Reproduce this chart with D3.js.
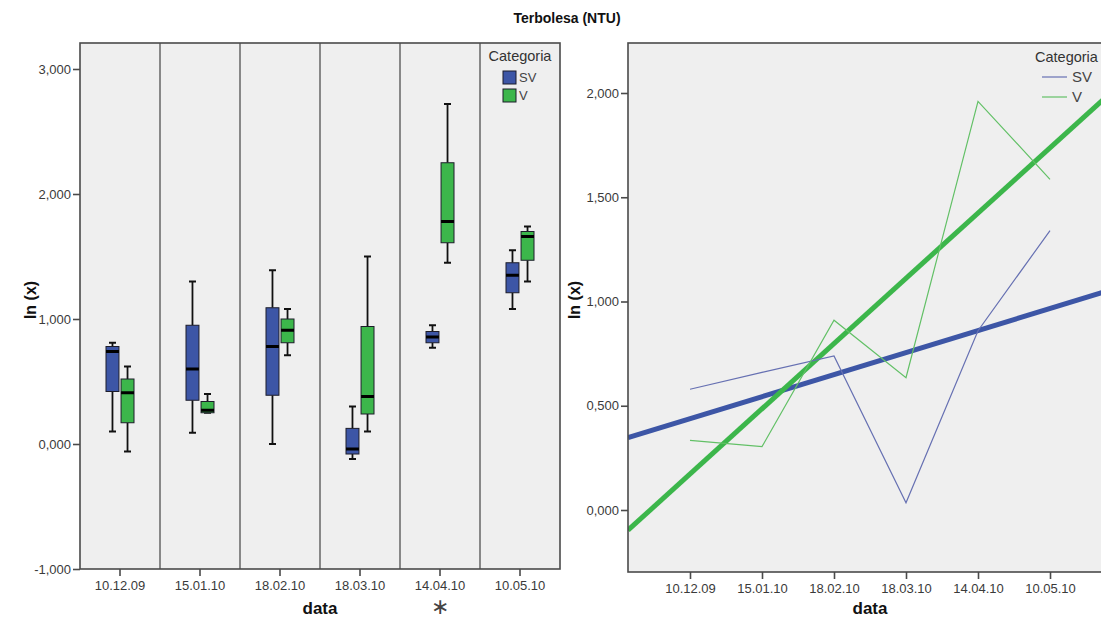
<!DOCTYPE html>
<html><head><meta charset="utf-8">
<script src="https://cdn.jsdelivr.net/npm/d3@7"></script>
<style>
body{margin:0;background:#fff}
svg{display:block}
text{font-family:Arial,"Liberation Sans",sans-serif}
</style>
</head><body>
<svg id="c" width="1101" height="620"></svg>
<script>
// ---------- data ----------
const dates = ["10.12.09","15.01.10","18.02.10","18.03.10","14.04.10","10.05.10"];
const categories = ["SV","V"];
// box plots: [min, q1, median, q3, max]
const svBoxes = [
  [0.10, 0.42, 0.74, 0.78, 0.81],
  [0.09, 0.35, 0.60, 0.95, 1.30],
  [0.00, 0.39, 0.78, 1.09, 1.39],
  [-0.12, -0.08, -0.04, 0.125, 0.30],
  [0.77, 0.81, 0.856, 0.90, 0.95],
  [1.08, 1.21, 1.35, 1.45, 1.55]
];
const vBoxes = [
  [-0.06, 0.17, 0.41, 0.52, 0.62],
  [0.25, 0.25, 0.27, 0.34, 0.40],
  [0.71, 0.81, 0.91, 1.00, 1.08],
  [0.10, 0.24, 0.38, 0.94, 1.50],
  [1.45, 1.61, 1.78, 2.25, 2.72],
  [1.30, 1.47, 1.66, 1.70, 1.74]
];
// line chart (means per date)
const svMeans = [0.579, 0.66, 0.739, 0.035, 0.86, 1.34];
const vMeans  = [0.334, 0.304, 0.91, 0.635, 1.96, 1.586];
const leftTicks = [-1, 0, 1, 2, 3];
const rightTicks = [0, 0.5, 1, 1.5, 2];
const outlierDate = "14.04.10";

// ---------- styles ----------
const colSV = "#3d56a6", colV = "#3cb64b";
const thinSV = "#6670b2", thinV = "#62c066";
const bg = "#efefef", frameCol = "#4a4a4a";
const fmt = v => v.toFixed(3).replace(".", ",");

const svg = d3.select("#c");

// ================= LEFT: boxplots =================
const L = {x0: 80, x1: 560, y0: 43, y1: 569};
const xL = d3.scaleBand().domain(dates).range([L.x0, L.x1]);
const yL = d3.scaleLinear().domain([-1, 3.208]).range([L.y1, L.y0]);
const gL = svg.append("g");
gL.append("rect").attr("x", L.x0).attr("y", L.y0).attr("width", L.x1-L.x0).attr("height", L.y1-L.y0)
  .attr("fill", bg);
// dividers
gL.selectAll("line.div").data(dates.slice(1)).join("line")
  .attr("x1", d => xL(d)).attr("x2", d => xL(d)).attr("y1", L.y0).attr("y2", L.y1)
  .attr("stroke", "#6e6e6e").attr("stroke-width", 1.6);

const catOff = d3.scaleBand().domain(categories).range([-14, 14]).paddingInner(0.14);
const boxW = catOff.bandwidth();
function drawBoxes(boxes, cat, color){
  const g = gL.append("g");
  boxes.forEach((b, i) => {
    const cx = xL(dates[i]) + xL.bandwidth()/2 + catOff(cat) + boxW/2;
    const gg = g.append("g");
    gg.append("line").attr("x1", cx).attr("x2", cx).attr("y1", yL(b[4])).attr("y2", yL(b[3]))
      .attr("stroke","#111").attr("stroke-width",1.8);
    gg.append("line").attr("x1", cx).attr("x2", cx).attr("y1", yL(b[1])).attr("y2", yL(b[0]))
      .attr("stroke","#111").attr("stroke-width",1.8);
    [b[0], b[4]].forEach(v => gg.append("line").attr("x1", cx-3.5).attr("x2", cx+3.5)
      .attr("y1", yL(v)).attr("y2", yL(v)).attr("stroke","#111").attr("stroke-width",2));
    gg.append("rect").attr("x", cx-boxW/2).attr("y", yL(b[3])).attr("width", boxW)
      .attr("height", Math.max(1, yL(b[1]) - yL(b[3])))
      .attr("fill", color).attr("stroke","#1d1d2a").attr("stroke-width",1);
    gg.append("line").attr("x1", cx-boxW/2).attr("x2", cx+boxW/2).attr("y1", yL(b[2])).attr("y2", yL(b[2]))
      .attr("stroke","#000").attr("stroke-width",3);
  });
}
drawBoxes(svBoxes, "SV", colSV);
drawBoxes(vBoxes, "V", colV);

gL.append("rect").attr("x", L.x0).attr("y", L.y0).attr("width", L.x1-L.x0).attr("height", L.y1-L.y0)
  .attr("fill","none").attr("stroke", frameCol).attr("stroke-width",1.6);

const axL = gL.append("g").attr("transform",`translate(${L.x0},0)`)
  .call(d3.axisLeft(yL).tickValues(leftTicks).tickFormat(fmt).tickSize(7).tickPadding(2));
const axLB = gL.append("g").attr("transform",`translate(0,${L.y1})`)
  .call(d3.axisBottom(xL).tickSize(7).tickPadding(5));
[axL, axLB].forEach(a => {
  a.select(".domain").remove();
  a.selectAll(".tick line").attr("stroke", frameCol).attr("stroke-width",1.6);
  a.selectAll(".tick text").attr("font-size",13).attr("fill","#3a3a3a")
    .attr("font-family","Arial, 'Liberation Sans', sans-serif");
});
gL.append("text").attr("transform","translate(36,300) rotate(-90)").attr("text-anchor","middle")
  .attr("font-size",16).attr("font-weight","bold").attr("fill","#111").text("ln (x)");
gL.append("text").attr("x", 320).attr("y", 614).attr("text-anchor","middle")
  .attr("font-size",17).attr("font-weight","bold").attr("fill","#111").text("data");
gL.append("text").attr("x", xL(outlierDate)+xL.bandwidth()/2).attr("y", 614).attr("text-anchor","middle")
  .attr("font-size",22).attr("font-family","'DejaVu Sans', sans-serif").attr("fill","#444").text("\u2217");

const lg = gL.append("g");
lg.append("text").attr("x", 520).attr("y", 61).attr("text-anchor","middle")
  .attr("font-size",14.5).attr("fill","#333").text("Categoria");
categories.forEach((c, i) => {
  lg.append("rect").attr("x", 503).attr("y", 71 + i*18).attr("width",13).attr("height",13)
    .attr("fill", i ? colV : colSV).attr("stroke","#1d1d2a").attr("stroke-width",1);
  lg.append("text").attr("x", 519).attr("y", 82 + i*18).attr("font-size",13).attr("fill","#444").text(c);
});

// ================= RIGHT: lines + fit =================
const R = {x0: 628, x1: 1112, y0: 43, y1: 572};
const idx = dates.map((d, i) => i + 1);
const xR = d3.scaleLinear().domain([0.139, 6.861]).range([R.x0, R.x1]);
const yR = d3.scaleLinear().domain([(510-572)/208.5, (510-43)/208.5]).range([R.y1, R.y0]);
const gR = svg.append("g");
gR.append("defs").append("clipPath").attr("id","clipR").append("rect")
  .attr("x", R.x0).attr("y", R.y0).attr("width", R.x1-R.x0).attr("height", R.y1-R.y0);
gR.append("rect").attr("x", R.x0).attr("y", R.y0).attr("width", R.x1-R.x0).attr("height", R.y1-R.y0)
  .attr("fill", bg);
const plot = gR.append("g").attr("clip-path","url(#clipR)");

function fit(ys){
  const mx = d3.mean(idx), my = d3.mean(ys);
  const sxy = d3.sum(idx, (x, i) => (x-mx)*(ys[i]-my));
  const sxx = d3.sum(idx, x => (x-mx)*(x-mx));
  const b = sxy/sxx; return {a: my - b*mx, b};
}
const line = d3.line().x((d, i) => xR(idx[i])).y(d => yR(d));
const fits = [[svMeans, colSV], [vMeans, colV]].map(([ys, c]) => {
  const f = fit(ys); const dom = xR.domain();
  return {pts: dom.map(x => [x, f.a + f.b*x]), c};
});
fits.forEach(f => plot.append("path")
  .attr("d", d3.line().x(p => xR(p[0])).y(p => yR(p[1]))(f.pts))
  .attr("fill","none").attr("stroke", f.c).attr("stroke-width",5));
plot.append("path").attr("d", line(svMeans)).attr("fill","none").attr("stroke", thinSV).attr("stroke-width",1.2);
plot.append("path").attr("d", line(vMeans)).attr("fill","none").attr("stroke", thinV).attr("stroke-width",1.2);

gR.append("rect").attr("x", R.x0).attr("y", R.y0).attr("width", R.x1-R.x0).attr("height", R.y1-R.y0)
  .attr("fill","none").attr("stroke", frameCol).attr("stroke-width",1.6);
const axR = gR.append("g").attr("transform",`translate(${R.x0},0)`)
  .call(d3.axisLeft(yR).tickValues(rightTicks).tickFormat(fmt).tickSize(7).tickPadding(2));
const axRB = gR.append("g").attr("transform",`translate(0,${R.y1})`)
  .call(d3.axisBottom(xR).tickValues(idx).tickFormat((d) => dates[d-1]).tickSize(7).tickPadding(5));
[axR, axRB].forEach(a => {
  a.select(".domain").remove();
  a.selectAll(".tick line").attr("stroke", frameCol).attr("stroke-width",1.6);
  a.selectAll(".tick text").attr("font-size",13).attr("fill","#3a3a3a")
    .attr("font-family","Arial, 'Liberation Sans', sans-serif");
});
gR.append("text").attr("transform","translate(580,300) rotate(-90)").attr("text-anchor","middle")
  .attr("font-size",16).attr("font-weight","bold").attr("fill","#111").text("ln (x)");
gR.append("text").attr("x", 870).attr("y", 614).attr("text-anchor","middle")
  .attr("font-size",17).attr("font-weight","bold").attr("fill","#111").text("data");

const rg = gR.append("g");
rg.append("text").attr("x", 1035).attr("y", 62).attr("font-size",14.5).attr("fill","#333").text("Categoria");
categories.forEach((c, i) => {
  rg.append("line").attr("x1", 1042).attr("x2", 1067).attr("y1", 77 + i*20).attr("y2", 77 + i*20)
    .attr("stroke", i ? thinV : thinSV).attr("stroke-width",1.2);
  rg.append("text").attr("x", 1072).attr("y", 82 + i*20).attr("font-size",15).attr("fill","#444").text(c);
});

// title (drawn last, in the white band above the panels)
svg.append("text").attr("x", 567).attr("y", 23).attr("text-anchor","middle")
  .attr("font-size", 14).attr("font-weight","bold").attr("fill","#111").text("Terbolesa (NTU)");
</script>
</body></html>
